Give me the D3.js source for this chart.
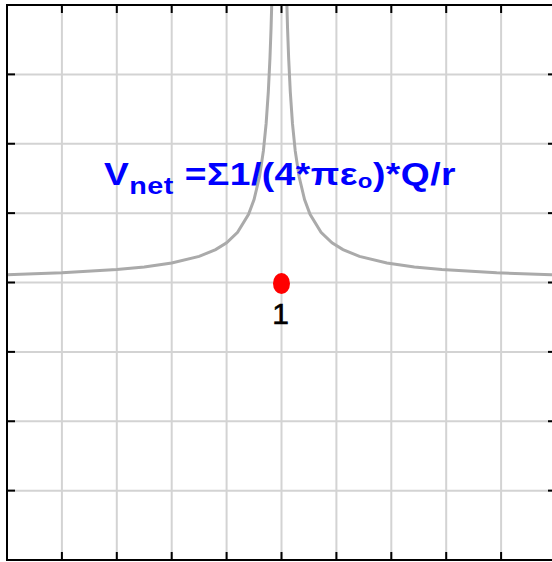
<!DOCTYPE html>
<html>
<head>
<meta charset="utf-8">
<script src="https://cdn.jsdelivr.net/npm/d3@7"></script>
<style>
  body { margin: 0; background: #fff; }
  svg { display: block; }
</style>
</head>
<body>
<div class="chart"></div>
<script>
// grid ticks (data units)
const xTicks = [-5, -4, -3, -2, -1, 0, 1, 2, 3, 4, 5];
const yTicks = [-4, -3, -2, -1, 0, 1, 2, 3, 4];

// potential curve
const curveX = [-5.0, -4.0, -3.0, -2.5, -2.0, -1.5, -1.2, -1.0, -0.8, -0.6, -0.5, -0.4, -0.33, -0.28, -0.24, -0.21, -0.19, -0.17,
                0.09, 0.11, 0.13, 0.16, 0.20, 0.25, 0.32, 0.42, 0.52, 0.72, 0.92, 1.12, 1.42, 1.92, 2.42, 2.92, 3.92, 4.92, 5.0];
const curveV = [0.111, 0.139, 0.186, 0.224, 0.281, 0.377, 0.474, 0.573, 0.724, 0.982, 1.196, 1.528, 1.897, 2.29, 2.75, 3.24, 3.67, 4.23,
                4.23, 3.67, 3.24, 2.75, 2.29, 1.897, 1.528, 1.196, 0.982, 0.724, 0.573, 0.474, 0.377, 0.281, 0.224, 0.186, 0.139, 0.111, 0.109];

// point charges
const chargeX = [0];
const chargeY = [0];
const chargeLabels = ["1"];

const width = 552, height = 562;

const x = d3.scaleLinear().domain([-5, 5]).range([7, 556]);
const y = d3.scaleLinear().domain([-4, 4]).range([560, 5]);

const svg = d3.select(".chart").append("svg")
    .attr("width", width)
    .attr("height", height);

svg.append("clipPath").attr("id", "plot")
  .append("rect")
    .attr("x", x(-5)).attr("y", y(4))
    .attr("width", x(5) - x(-5)).attr("height", y(-4) - y(4));

// grid
const grid = svg.append("g")
    .attr("stroke", "#d3d3d3")
    .attr("stroke-width", 2);

grid.selectAll("line.v")
  .data(xTicks.slice(1, -1))
  .join("line")
    .attr("class", "v")
    .attr("x1", d => x(d)).attr("x2", d => x(d))
    .attr("y1", y(4)).attr("y2", y(-4));

grid.selectAll("line.h")
  .data(yTicks.slice(1, -1))
  .join("line")
    .attr("class", "h")
    .attr("x1", x(-5)).attr("x2", x(5))
    .attr("y1", d => y(d)).attr("y2", d => y(d));

// curve
const pts = curveX.map((d, i) => [d, curveV[i]]);
const line = d3.line().x(d => x(d[0])).y(d => y(d[1]));

svg.append("path")
    .datum(pts)
    .attr("clip-path", "url(#plot)")
    .attr("fill", "none")
    .attr("stroke", "#aaaaaa")
    .attr("stroke-width", 3)
    .attr("d", line);

// frame + inner ticks
svg.append("rect")
    .attr("x", x(-5)).attr("y", y(4))
    .attr("width", x(5) - x(-5)).attr("height", y(-4) - y(4))
    .attr("fill", "none")
    .attr("stroke", "#000")
    .attr("stroke-width", 2);

const tl = 8;
const ticks = svg.append("g").attr("stroke", "#000").attr("stroke-width", 2);
xTicks.slice(1, -1).forEach(d => {
  ticks.append("line").attr("x1", x(d)).attr("x2", x(d)).attr("y1", y(4)).attr("y2", y(4) + tl);
  ticks.append("line").attr("x1", x(d)).attr("x2", x(d)).attr("y1", y(-4)).attr("y2", y(-4) - tl);
});
yTicks.slice(1, -1).forEach(d => {
  ticks.append("line").attr("y1", y(d)).attr("y2", y(d)).attr("x1", x(-5)).attr("x2", x(-5) + tl);
  ticks.append("line").attr("y1", y(d)).attr("y2", y(d)).attr("x1", x(5)).attr("x2", x(5) - tl);
});

// charges
const charges = chargeX.map((d, i) => ({x: d, y: chargeY[i], label: chargeLabels[i]}));
const cg = svg.append("g").selectAll("g").data(charges).join("g")
    .attr("transform", d => `translate(${x(d.x)},${y(d.y)})`);

cg.append("ellipse")
    .attr("rx", 8.5).attr("ry", 10.5)
    .attr("cy", 1)
    .attr("fill", "#ff0000");

cg.append("text")
    .text(d => d.label)
    .attr("x", -1)
    .attr("y", 41)
    .attr("text-anchor", "middle")
    .style("font-family", "Liberation Sans, Arial, sans-serif")
    .style("font-size", "30px")
    .style("stroke", "#000")
    .style("stroke-width", 0.6)
    .style("fill", "#000");

// formula (glyphs in the original are wide, so stretch horizontally)
const f = svg.append("text")
    .attr("transform", "translate(104,185) scale(1.2,1)")
    .style("font-family", "Liberation Sans, Arial, sans-serif")
    .style("font-weight", "bold")
    .style("font-size", "31px")
    .style("letter-spacing", "0.4px")
    .style("fill", "#0000ff");

f.append("tspan").text("V");
f.append("tspan").text("net").attr("dy", 9).style("font-size", "24px");
f.append("tspan").text(" =Σ1/(4*πε").attr("dy", -9);
f.append("tspan").text("o").attr("dy", 3).style("font-size", "20px");
f.append("tspan").text(")*Q/r").attr("dy", -3);
</script>
</body>
</html>
